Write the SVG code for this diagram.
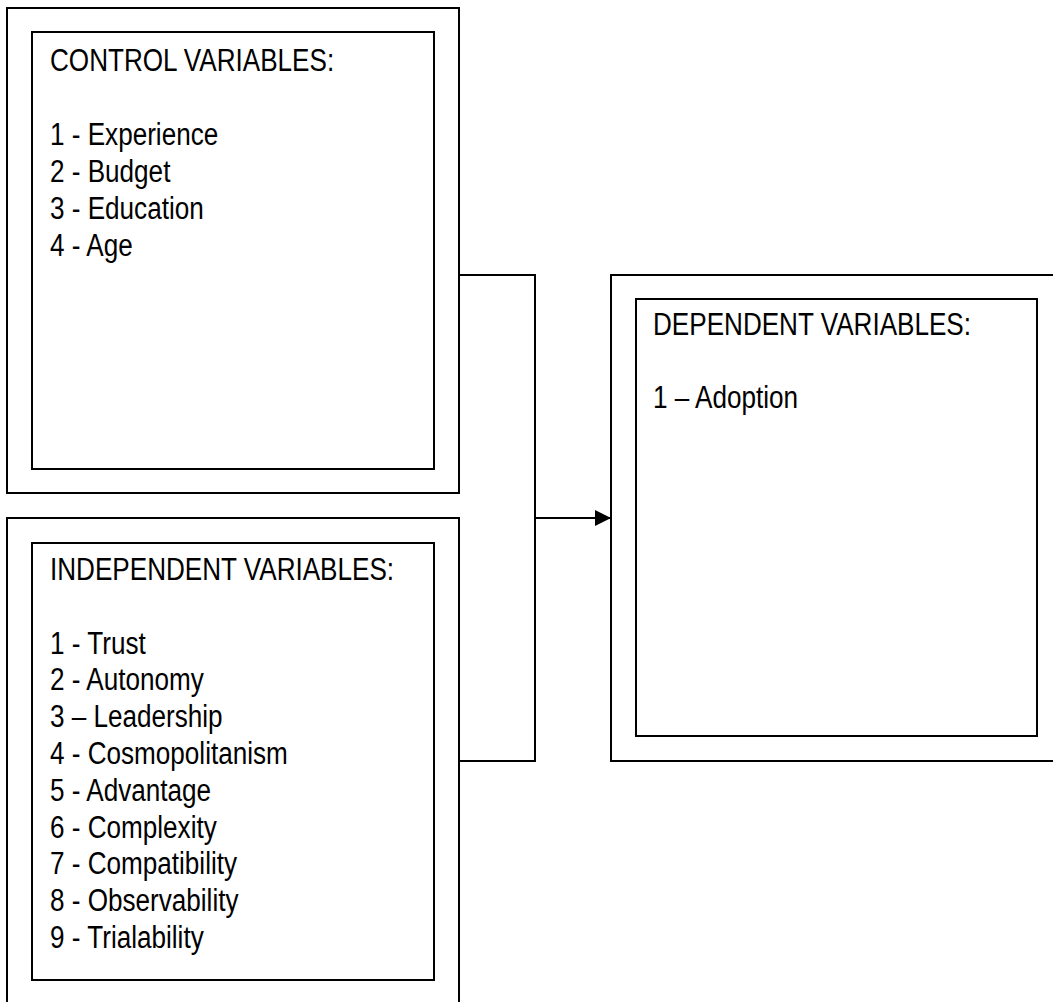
<svg xmlns="http://www.w3.org/2000/svg" width="1053" height="1002" viewBox="0 0 1053 1002">
<style>
.box{fill:none;stroke:#000;stroke-width:2}
.con{fill:none;stroke:#000;stroke-width:2}
.t{font-family:"Liberation Sans",Arial,sans-serif;font-size:31px;fill:#000}
</style>
<defs>
<marker id="arr" markerUnits="userSpaceOnUse" markerWidth="16" markerHeight="16" refX="16" refY="8" orient="auto">
<path d="M0,0 L16,8 L0,16 Z" fill="#000"/>
</marker>
</defs>
<rect width="1053" height="1002" fill="#fff"/>
<g id="control">
<rect class="box" x="7" y="8" width="452" height="485"/>
<rect class="box" x="32" y="32" width="402" height="437"/>
<g transform="translate(50,0) scale(0.842,1)">
<text class="t" x="0" y="71">CONTROL VARIABLES:</text>
<text class="t" x="0" y="145">1 - Experience</text>
<text class="t" x="0" y="182">2 - Budget</text>
<text class="t" x="0" y="219">3 - Education</text>
<text class="t" x="0" y="256">4 - Age</text>
</g>
</g>
<g id="independent">
<rect class="box" x="7" y="518" width="452" height="500"/>
<rect class="box" x="32" y="543" width="402" height="437"/>
<g transform="translate(50,0) scale(0.842,1)">
<text class="t" x="0" y="580">INDEPENDENT VARIABLES:</text>
<text class="t" x="0" y="654">1 - Trust</text>
<text class="t" x="0" y="690.5">2 - Autonomy</text>
<text class="t" x="0" y="727">3 – Leadership</text>
<text class="t" x="0" y="764">4 - Cosmopolitanism</text>
<text class="t" x="0" y="801">5 - Advantage</text>
<text class="t" x="0" y="838">6 - Complexity</text>
<text class="t" x="0" y="874.5">7 - Compatibility</text>
<text class="t" x="0" y="911">8 - Observability</text>
<text class="t" x="0" y="948">9 - Trialability</text>
</g>
</g>
<g id="dependent">
<rect class="box" x="611" y="275" width="460" height="486"/>
<rect class="box" x="636" y="299" width="401" height="437"/>
<g transform="translate(653,0) scale(0.842,1)">
<text class="t" x="0" y="335">DEPENDENT VARIABLES:</text>
<text class="t" x="0" y="408">1 – Adoption</text>
</g>
</g>
<g id="connectors">
<path class="con" d="M459,275 H535 V761 H459"/>
<path class="con" d="M535,518 H611" marker-end="url(#arr)"/>
</g>
</svg>
